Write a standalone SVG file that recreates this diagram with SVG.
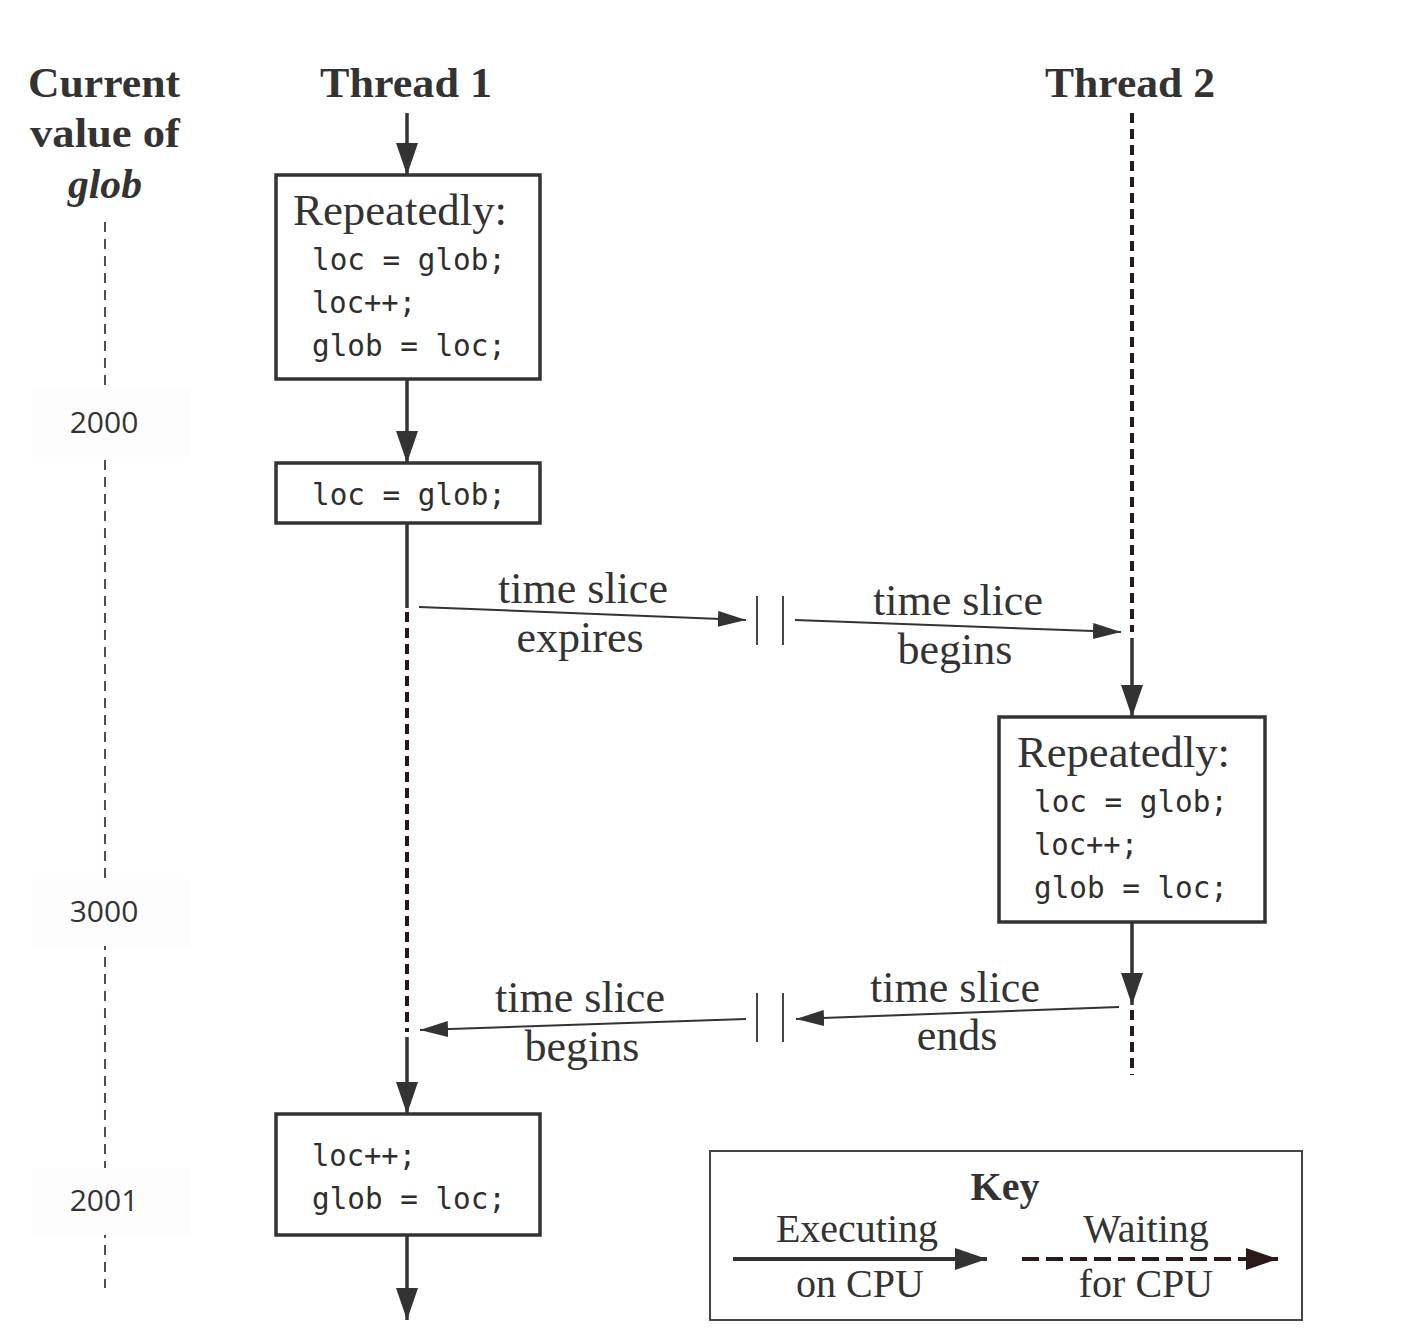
<svg xmlns="http://www.w3.org/2000/svg" width="1413" height="1344" viewBox="0 0 1413 1344">
<style>
  .hdr { font-family: "Liberation Serif", "Times New Roman", serif; font-weight: bold; font-size: 43px; fill: #333; }
  .ser { font-family: "Liberation Serif", "Times New Roman", serif; font-size: 44px; fill: #333; }
  .key { font-family: "Liberation Serif", "Times New Roman", serif; font-size: 40px; fill: #333; }
  .code { font-family: "DejaVu Sans Mono", "Liberation Mono", monospace; font-size: 31px; fill: #2e2e2e; }
  .num { font-family: "Open Sans", "Noto Sans", sans-serif; font-size: 30px; fill: #333; }
  .box { fill: #fff; stroke: #333; stroke-width: 3.5; }
  .run { stroke: #333; stroke-width: 3.5; fill: none; }
  .wait { stroke: #2b1818; stroke-width: 4; stroke-dasharray: 10 6; fill: none; }
  .axis { stroke: #3f2c2c; stroke-width: 1.7; stroke-dasharray: 10 7; fill: none; }
  .thin { stroke: #333; stroke-width: 2; fill: none; }
  .bar { stroke: #333; stroke-width: 1.8; }
  .lbg { fill: #fdfdfd; }
</style>
<defs>
  <marker id="ah" viewBox="0 0 32 22" refX="32" refY="11" markerWidth="32" markerHeight="22" markerUnits="userSpaceOnUse" orient="auto">
    <path d="M0,0 L32,11 L0,22 z" fill="#333"/>
  </marker>
  <marker id="ahs" viewBox="0 0 28 16" refX="28" refY="8" markerWidth="28" markerHeight="16" markerUnits="userSpaceOnUse" orient="auto">
    <path d="M0,0 L28,8 L0,16 z" fill="#333"/>
  </marker>
  <marker id="ahw" viewBox="0 0 32 22" refX="32" refY="11" markerWidth="32" markerHeight="22" markerUnits="userSpaceOnUse" orient="auto">
    <path d="M0,0 L32,11 L0,22 z" fill="#2b1818"/>
  </marker>
</defs>

<rect width="1413" height="1344" fill="#fff"/>

<g id="header-glob">
  <text class="hdr" x="28" y="97" textLength="152" lengthAdjust="spacingAndGlyphs">Current</text>
  <text class="hdr" x="30" y="147" textLength="150" lengthAdjust="spacingAndGlyphs">value of</text>
  <text class="hdr" x="68" y="198" font-style="italic" textLength="74" lengthAdjust="spacingAndGlyphs">glob</text>
</g>
<g id="header-thread1">
  <text class="hdr" x="320" y="97" textLength="172" lengthAdjust="spacingAndGlyphs">Thread 1</text>
</g>
<g id="header-thread2">
  <text class="hdr" x="1045" y="97" textLength="170" lengthAdjust="spacingAndGlyphs">Thread 2</text>
</g>

<g id="axis">
  <line class="axis" x1="105" y1="222" x2="105" y2="385"/>
  <line class="axis" x1="105" y1="460" x2="105" y2="888"/>
  <line class="axis" x1="105" y1="940" x2="105" y2="1168"/>
  <line class="axis" x1="105" y1="1228" x2="105" y2="1288"/>
</g>
<g id="val-2000">
  <rect class="lbg" x="32" y="390" width="158" height="67"/>
  <text class="num" x="104" y="433" text-anchor="middle">2000</text>
</g>
<g id="val-3000">
  <rect class="lbg" x="32" y="879" width="158" height="67"/>
  <text class="num" x="104" y="922" text-anchor="middle">3000</text>
</g>
<g id="val-2001">
  <rect class="lbg" x="32" y="1168" width="158" height="67"/>
  <text class="num" x="104" y="1211" text-anchor="middle">2001</text>
</g>

<g id="connectors">
  <!-- Thread 1 -->
  <line class="run" x1="407" y1="113" x2="407" y2="175" marker-end="url(#ah)"/>
  <line class="run" x1="407" y1="379" x2="407" y2="463" marker-end="url(#ah)"/>
  <line class="run" x1="407" y1="523" x2="407" y2="608"/>
  <line class="wait" x1="407" y1="612" x2="407" y2="1032"/>
  <line class="run" x1="407" y1="1037" x2="407" y2="1114" marker-end="url(#ah)"/>
  <line class="run" x1="407" y1="1235" x2="407" y2="1320" marker-end="url(#ah)"/>
  <!-- Thread 2 -->
  <line class="wait" x1="1132" y1="113" x2="1132" y2="632"/>
  <line class="run" x1="1132" y1="638" x2="1132" y2="717" marker-end="url(#ah)"/>
  <line class="run" x1="1132" y1="922" x2="1132" y2="1005" marker-end="url(#ah)"/>
  <line class="wait" x1="1132" y1="1010" x2="1132" y2="1075"/>
  <!-- time slice switch 1 -->
  <line class="thin" x1="419" y1="607" x2="746" y2="620" marker-end="url(#ahs)"/>
  <line class="bar" x1="757" y1="596" x2="757" y2="645"/>
  <line class="bar" x1="783" y1="596" x2="783" y2="645"/>
  <line class="thin" x1="795" y1="620" x2="1121" y2="632" marker-end="url(#ahs)"/>
  <!-- time slice switch 2 -->
  <line class="thin" x1="1119" y1="1007" x2="796" y2="1019" marker-end="url(#ahs)"/>
  <line class="bar" x1="757" y1="993" x2="757" y2="1042"/>
  <line class="bar" x1="783" y1="993" x2="783" y2="1042"/>
  <line class="thin" x1="746" y1="1019" x2="420" y2="1030" marker-end="url(#ahs)"/>
</g>

<g id="box-t1-loop">
  <rect class="box" x="276" y="175" width="264" height="204"/>
  <text class="ser" x="293" y="225" textLength="214" lengthAdjust="spacingAndGlyphs">Repeatedly:</text>
  <text class="code" x="312" y="270" textLength="194" lengthAdjust="spacingAndGlyphs">loc = glob;</text>
  <text class="code" x="312" y="313" textLength="104" lengthAdjust="spacingAndGlyphs">loc++;</text>
  <text class="code" x="312" y="356" textLength="194" lengthAdjust="spacingAndGlyphs">glob = loc;</text>
</g>
<g id="box-t1-read">
  <rect class="box" x="276" y="463" width="264" height="60"/>
  <text class="code" x="312" y="505" textLength="194" lengthAdjust="spacingAndGlyphs">loc = glob;</text>
</g>
<g id="box-t2-loop">
  <rect class="box" x="999" y="717" width="266" height="205"/>
  <text class="ser" x="1017" y="767" textLength="213" lengthAdjust="spacingAndGlyphs">Repeatedly:</text>
  <text class="code" x="1034" y="812" textLength="194" lengthAdjust="spacingAndGlyphs">loc = glob;</text>
  <text class="code" x="1034" y="855" textLength="104" lengthAdjust="spacingAndGlyphs">loc++;</text>
  <text class="code" x="1034" y="898" textLength="194" lengthAdjust="spacingAndGlyphs">glob = loc;</text>
</g>
<g id="box-t1-write">
  <rect class="box" x="276" y="1114" width="264" height="121"/>
  <text class="code" x="312" y="1166" textLength="104" lengthAdjust="spacingAndGlyphs">loc++;</text>
  <text class="code" x="312" y="1209" textLength="194" lengthAdjust="spacingAndGlyphs">glob = loc;</text>
</g>

<g id="label-expires">
  <text class="ser" x="583" y="603" text-anchor="middle">time slice</text>
  <text class="ser" x="580" y="652" text-anchor="middle">expires</text>
</g>
<g id="label-begins-t2">
  <text class="ser" x="958" y="615" text-anchor="middle">time slice</text>
  <text class="ser" x="955" y="664" text-anchor="middle">begins</text>
</g>
<g id="label-ends">
  <text class="ser" x="955" y="1002" text-anchor="middle">time slice</text>
  <text class="ser" x="957" y="1050" text-anchor="middle">ends</text>
</g>
<g id="label-begins-t1">
  <text class="ser" x="580" y="1012" text-anchor="middle">time slice</text>
  <text class="ser" x="582" y="1061" text-anchor="middle">begins</text>
</g>

<g id="key">
  <rect x="710" y="1151" width="592" height="169" fill="#fff" stroke="#444" stroke-width="2"/>
  <text class="key" x="1005" y="1200" text-anchor="middle" font-weight="bold" font-size="41">Key</text>
  <text class="key" x="857" y="1242" text-anchor="middle">Executing</text>
  <line x1="733" y1="1259" x2="987" y2="1259" stroke="#333" stroke-width="4" marker-end="url(#ah)"/>
  <text class="key" x="860" y="1297" text-anchor="middle">on CPU</text>
  <text class="key" x="1146" y="1242" text-anchor="middle">Waiting</text>
  <line x1="1022" y1="1259" x2="1252" y2="1259" stroke="#2b1818" stroke-width="4" stroke-dasharray="17 7"/>
  <line x1="1245" y1="1259" x2="1278" y2="1259" stroke="#2b1818" stroke-width="4" marker-end="url(#ahw)"/>
  <text class="key" x="1146" y="1297" text-anchor="middle">for CPU</text>
</g>
</svg>
